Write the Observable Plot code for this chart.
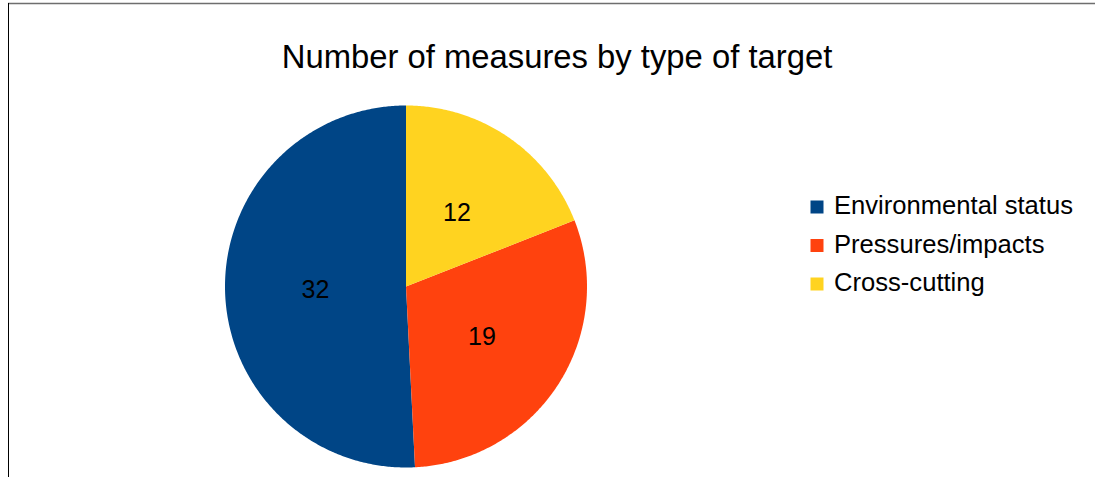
<!DOCTYPE html>
<html><head><meta charset="utf-8">
<script src="https://cdn.jsdelivr.net/npm/d3@7"></script>
<script src="https://cdn.jsdelivr.net/npm/@observablehq/plot@0.6"></script>
<style>body{margin:0;background:#fff}</style>
</head><body><div id="chart"></div>
<script>
const title = "Number of measures by type of target";
const categories = ["Environmental status", "Pressures/impacts", "Cross-cutting"];
const values = [32, 19, 12];
const colors = ["#004586", "#ff420e", "#ffd320"];

// pie layout: start at 12 o'clock, counter-clockwise
const pie = d3.pie().sort(null).startAngle(0).endAngle(-2 * Math.PI)(values);
const slices = pie.map((p, i) => ({
  category: categories[i], value: p.value,
  start: p.startAngle, end: p.endAngle, mid: (p.startAngle + p.endAngle) / 2
}));
const outline = slices.flatMap(s => {
  const n = Math.max(2, Math.ceil(Math.abs(s.end - s.start) / (Math.PI / 360)));
  const pts = [{category: s.category, x: 0, y: 0}];
  for (let k = 0; k <= n; k++) {
    const a = s.start + (s.end - s.start) * k / n;
    pts.push({category: s.category, x: Math.sin(a), y: Math.cos(a)});
  }
  pts.push({category: s.category, x: 0, y: 0});
  return pts;
});

const cx = 405.5, cy = 286, R = 181;
const font = "'Liberation Sans', Arial, sans-serif";

const chart = Plot.plot({
  width: 1095, height: 477, margin: 0,
  x: {domain: [-1, 1], range: [cx - R, cx + R], axis: null},
  y: {domain: [-1, 1], range: [cy + R, cy - R], axis: null},
  color: {domain: categories, range: colors},
  style: {fontFamily: font, background: "white", color: "black"},
  marks: [
    Plot.line(outline, {x: "x", y: "y", fill: "category", z: "category", stroke: "none"}),
    Plot.text(slices, {
      x: d => 0.5 * Math.sin(d.mid), y: d => 0.5 * Math.cos(d.mid),
      text: d => String(d.value), fontSize: 25, fill: "black",
      textAnchor: "middle", lineAnchor: "middle", dy: 1
    }),
    Plot.text([title], {frameAnchor: "top-left", dx: 556.5, dy: 67, text: d => d,
      textAnchor: "middle", lineAnchor: "bottom", fontSize: 32.8, fill: "black"}),
    ...categories.map((c, i) => Plot.dot([c], {frameAnchor: "top-left", dx: 816.5, dy: 206.5 + 38.5 * i,
      symbol: "square", r: 13 / Math.sqrt(Math.PI), fill: d => d, stroke: "none"})),
    ...categories.map((c, i) => Plot.text([c], {frameAnchor: "top-left", dx: 833.5, dy: 213.5 + 38.5 * i,
      text: d => d, textAnchor: "start", lineAnchor: "bottom", fontSize: 25.6, fill: "black"}))
  ]
});

const svg = d3.select(chart);
svg.append("line").attr("x1", 8).attr("x2", 1095).attr("y1", 3.5).attr("y2", 3.5)
  .attr("stroke", "#6e6e6e").attr("stroke-width", 1.5);
svg.append("line").attr("x1", 8.5).attr("x2", 8.5).attr("y1", 3).attr("y2", 477)
  .attr("stroke", "#000").attr("stroke-width", 1);

document.getElementById("chart").appendChild(chart);
</script>
</body></html>
